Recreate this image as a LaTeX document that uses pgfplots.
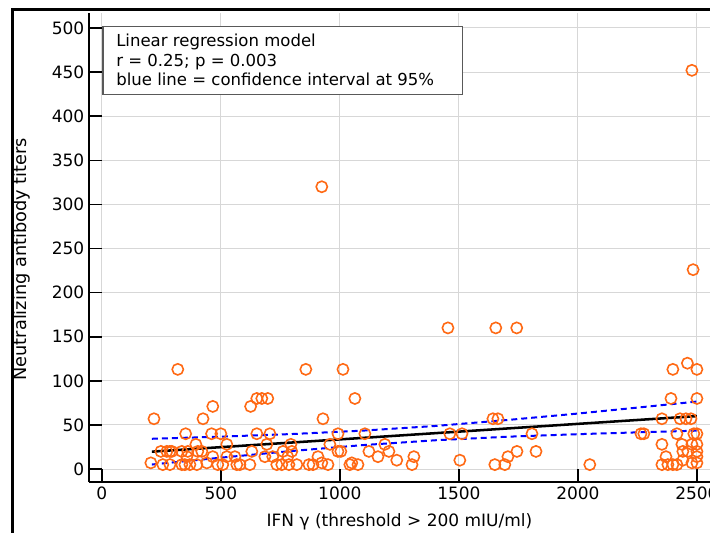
\documentclass[border=0pt]{standalone}
\usepackage{pgfplots}
\pgfplotsset{compat=1.18}
\usepackage{fontspec}
\setmainfont{DejaVu Sans}
\definecolor{ptorange}{RGB}{255,105,20}
\definecolor{gridgray}{RGB}{215,215,215}
\pgfplotstableread{
x y
2479 452
2484 226
924 320
1454 160
1655 160
1743 160
319 113
857 113
1013 113
2399 113
2460 120
2500 113
2391 80
2500 80
651 80
672 80
697 80
1063 80
466 71
625 71
219 57
425 57
929 57
1643 57
1664 57
2353 57
2429 57
2454 57
2475 57
352 40
461 40
500 40
651 40
706 40
992 40
1105 40
1462 40
1513 40
1807 40
2265 40
2277 40
2416 40
2487 40
2500 40
395 28
525 28
693 28
794 28
958 28
1189 28
2353 28
2437 28
2479 28
2500 28
248 20
273 20
286 20
294 20
336 20
361 20
403 20
420 20
630 20
761 20
798 20
992 20
1004 20
1122 20
1206 20
1744 20
1824 20
2441 20
2462 20
2500 20
357 14
466 14
525 14
559 14
685 14
718 14
781 14
908 14
1160 14
1311 14
1706 14
2370 14
2500 14
1239 10
1504 10
2441 10
206 7
441 7
924 7
1050 7
2479 7
2500 7
256 5
286 5
336 5
349 5
370 5
399 5
487 5
508 5
567 5
580 5
622 5
735 5
756 5
786 5
819 5
870 5
887 5
950 5
1042 5
1076 5
1303 5
1651 5
1693 5
2050 5
2353 5
2378 5
2399 5
2416 5
}\scatterdata
\pgfplotstableread{
x up lo
210 34.3 5.1
500 36.7 12.9
800 39.7 20.5
1100 43.6 27.2
1400 48.8 32.6
1700 55.5 36.6
2000 62.9 39.5
2300 71.0 42.0
2500 76.5 43.5
}\cidata
\begin{document}
\begin{tikzpicture}
\useasboundingbox (0,0) rectangle (532.5pt,399pt);
\draw[line width=2.25pt] (9pt,-5pt) -- (9pt,391.5pt) -- (545pt,391.5pt);
\begin{axis}[
  at={(66.75pt,37.5pt)}, anchor=south west,
  scale only axis, width=465.75pt, height=351.75pt,
  xmin=-54, xmax=2555, ymin=-14.7, ymax=517,
  axis x line*=bottom, axis y line*=left,
  axis line style={line width=2pt, black},
  xtick={0,500,...,2500}, ytick={0,50,...,500},
  tick align=inside, major tick length=9.75pt,
  tick style={line width=1.2pt, black},
  grid=major, major grid style={gridgray, line width=0.75pt},
  /pgf/number format/assume math mode=true,
  /pgf/number format/set thousands separator={},
  tick label style={font=\fontsize{12.75}{15}\selectfont},
  xlabel={IFN γ (threshold > 200 mIU/ml)},
  ylabel={Neutralizing antibody titers},
  every axis x label/.style={at={(axis description cs:0.5,-0.085)}, anchor=center, font=\fontsize{12.75}{15}\selectfont},
  every axis y label/.style={at={(axis description cs:-0.108,0.475)}, anchor=center, rotate=90, font=\fontsize{13.3}{15}\selectfont},
]
\addplot[only marks, mark=o, mark size=4.2pt, mark options={ptorange, line width=1.2pt}] table[x=x,y=y] {\scatterdata};
\addplot[blue, dashed, line width=1.5pt, dash pattern=on 4.5pt off 3pt] table[x=x,y=up] {\cidata};
\addplot[blue, dashed, line width=1.5pt, dash pattern=on 4.5pt off 3pt] table[x=x,y=lo] {\cidata};
\addplot[black, line width=1.9pt] coordinates {(210,19.7) (2500,60)};
\draw[draw=black!65, line width=0.8pt, fill=white] (axis description cs:0.0225,0.972) rectangle (axis description cs:0.602,0.827);
\node[anchor=north west, align=left, inner sep=0pt, font=\fontsize{12.4}{14.6}\selectfont] at (axis description cs:0.0435,0.955) {Linear regression model\\r = 0.25; p = 0.003\\blue line = confidence interval at 95\%};
\end{axis}
\end{tikzpicture}
\end{document}
